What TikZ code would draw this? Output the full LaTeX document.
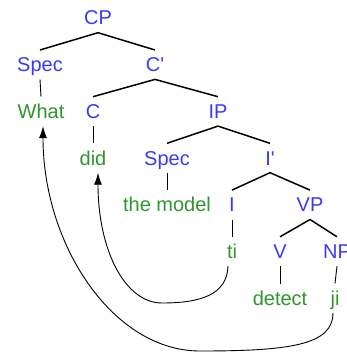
\documentclass[tikz,border=0pt]{standalone}
\usepackage{fontspec}
\setmainfont{Liberation Sans}
\usepackage{xcolor}
\usetikzlibrary{arrows,arrows.meta}
\definecolor{catcolor}{HTML}{3A3AF4}
\definecolor{wordcolor}{HTML}{2E962E}

\begin{document}
\begin{tikzpicture}[x=1pt,y=-1pt,
    lbl/.style={font=\fontsize{20}{24}\selectfont,text height=14pt,text depth=0pt,inner xsep=2pt,inner ysep=7.5pt},
    cat/.style={lbl,text=catcolor},
    word/.style={lbl,text=wordcolor},
    branch/.style={black,line width=1.5pt},
    link/.style={black,line width=0.9pt},
    move/.style={black,line width=0.9pt,-{Latex[length=12pt,width=8pt]}}]
\useasboundingbox (0,0) rectangle (346,353);
\clip (0,0) rectangle (346,353);

%% categories
\node[cat] (cp) at (98,18) {CP};
\node[cat] (specc) at (40,64.7) {Spec};
\node[cat] (cbar) at (155,64.7) {C\textquotesingle};
\node[cat] (c) at (93,111.4) {C};
\node[cat] (ip) at (218,111.4) {IP};
\node[cat] (speci) at (167,158) {Spec};
\node[cat] (ibar) at (270,158) {I\textquotesingle};
\node[cat] (i) at (232,204.8) {I};
\node[cat] (vp) at (310,204.8) {VP};
\node[cat] (v) at (280,251.5) {V};
\node[cat] (np) at (337,251.5) {NP};

%% words
\node[word] (what) at (41,111.4) {What};
\node[word] (did) at (93,158) {did};
\node[word] (model) at (167,204.8) {the model};
\node[word] (ti) at (232,251.5) {ti};
\node[word] (detect) at (280,298.2) {detect};
\node[word] (ji) at (335,298.2) {ji};

%% branches
\foreach \p/\a/\b in {cp/specc/cbar, cbar/c/ip, ip/speci/ibar, ibar/i/vp, vp/v/np}
    \draw[branch] (\a.north) -- (\p.south) -- (\b.north);
\foreach \a/\b in {specc/what, c/did, speci/model, i/ti, v/detect, np/ji}
    \draw[link] (\a.south) -- (\b.north);

%% movement
\coordinate (tilow) at (162,303);
\coordinate (jilow) at (200,351);
\draw[move] ([xshift=-4pt]ti.south) .. controls (227,295) and (200,303) .. (tilow)
    .. controls (125,303) and (98,250) .. ([xshift=5pt]did.south);
\draw[move] ([xshift=-2pt]ji.south) .. controls (333,345) and (290,351) .. (jilow)
    .. controls (113,351) and (43,245) .. ([xshift=2pt]what.south);
\end{tikzpicture}
\end{document}
